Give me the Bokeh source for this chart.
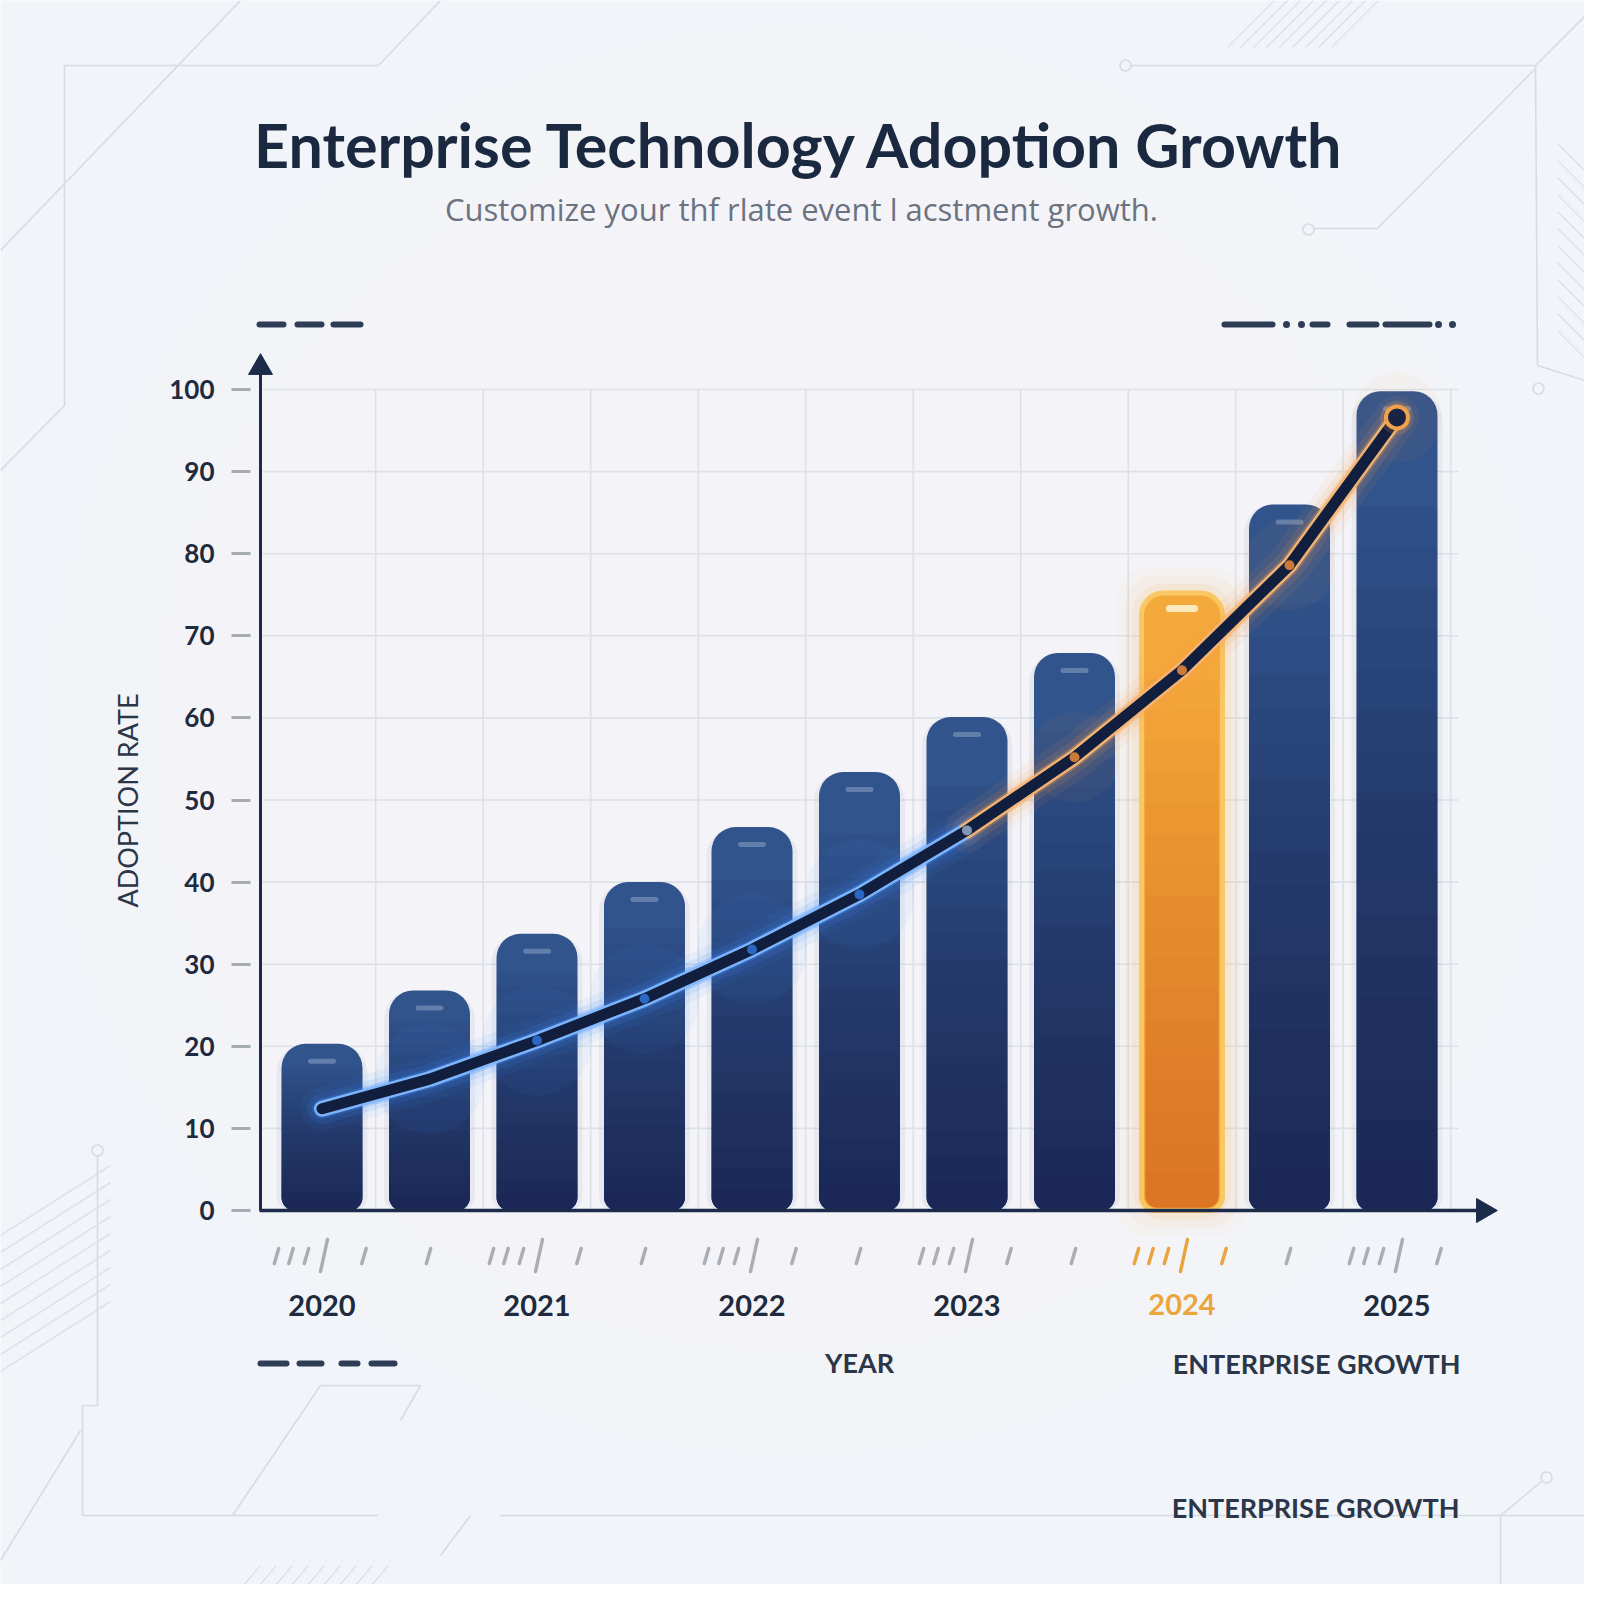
import numpy as np
from bokeh.plotting import figure
from bokeh.models import Range1d, LinearAxis, FixedTicker
from bokeh.core.properties import value
from bokeh.embed import file_html
from bokeh.resources import INLINE

# ---------------- data ----------------
title_text = "Enterprise Technology Adoption Growth"
subtitle_text = "Customize your thf rlate event l acstment growth."
years = ["2020", "2021", "2022", "2023", "2024", "2025"]
adoption = [20.3, 26.8, 33.7, 40.0, 46.7, 53.4, 60.1, 67.9, 75.2, 86.0, 99.8]
trend = [12.4, 16.0, 20.7, 25.8, 31.8, 38.5, 46.3, 55.2, 65.8, 78.6, 96.6]
highlight_index = 8
highlight_year = "2024"
y_ticks = [0, 10, 20, 30, 40, 50, 60, 70, 80, 90, 100]
y_label = "ADOPTION RATE"
x_label = "YEAR"
footer_label = "ENTERPRISE GROWTH"

# ---------------- pixel <-> data mapping ----------------
OFF = 0
X0, XS = 321.5, 107.5      # x pixel of first bar, px per bar step
Y0, YS = 1210.0, 8.21      # y pixel of value 0, px per unit
def X(px): return (px - X0) / XS
def Y(py): return (Y0 - py) / YS
def DX(d): return d / XS
def DY(d): return d / YS

W = H = 1584
FONT = "Lato"
DARK = "#1e2a3d"
BG = "#f1f4f8"

p = figure(width=W, height=H, output_backend="svg", toolbar_location=None,
           x_range=Range1d(X(OFF), X(OFF + W)), y_range=Range1d(Y(OFF + H), Y(OFF)),
           x_axis_type=None, y_axis_type=None, min_border=0)
p.background_fill_color = BG
p.border_fill_color = BG
p.outline_line_color = None

# ---------------- soft background ----------------
for k in range(8):
    s = 1500 - 110 * k
    p.ellipse(x=[X(800)], y=[Y(740)], width=[s], height=[s * 0.95], width_units="screen",
              height_units="screen", fill_color="#ffffff", fill_alpha=0.08, line_color=None)

deco_col = "#d6dce4"
deco_paths = [
    [(440, 0), (378, 65), (64, 65), (64, 405), (0, 470)],
    [(240, 0), (0, 250)],
    [(1125, 65), (1535, 65), (1593, 7)],
    [(1535, 65), (1537, 365), (1600, 385)],
    [(1535, 68), (1377, 228), (1308, 228)],
    [(97, 1155), (97, 1405), (82, 1405), (82, 1515), (378, 1515)],
    [(500, 1515), (1600, 1515)],
    [(440, 1555), (470, 1515)],
    [(232, 1515), (320, 1385), (420, 1385), (400, 1420)],
    [(1500, 1600), (1500, 1515), (1546, 1477)],
    [(0, 1560), (80, 1430)],
]
p.multi_line(xs=[[X(a) for a, b in path] for path in deco_paths],
             ys=[[Y(b) for a, b in path] for path in deco_paths],
             line_color=deco_col, line_width=1.6)
circ = [(1125, 65), (1308, 229), (1538, 388), (97, 1150), (1546, 1477)]
p.scatter(x=[X(a) for a, b in circ], y=[Y(b) for a, b in circ], size=11,
          fill_color=BG, line_color=deco_col, line_width=1.6)
hx0, hy0, hx1, hy1 = [], [], [], []
for k in range(9):
    a = 1227 + 13 * k
    hx0.append(X(a)); hy0.append(Y(47)); hx1.append(X(a + 47)); hy1.append(Y(0))
for k in range(12):
    b = 143 + 17 * k
    hx0.append(X(1557)); hy0.append(Y(b)); hx1.append(X(1600)); hy1.append(Y(b + 43))
for k in range(9):
    b = 1235 + 17 * k
    hx0.append(X(0)); hy0.append(Y(b)); hx1.append(X(110)); hy1.append(Y(b - 70))
for k in range(9):
    a = 230 + 16 * k
    hx0.append(X(a)); hy0.append(Y(1600)); hx1.append(X(a + 30)); hy1.append(Y(1565))
p.segment(x0=hx0, y0=hy0, x1=hx1, y1=hy1, line_color="#dde2e9", line_width=1.5)

# ---------------- grid ----------------
grid_col = "#dce1e7"
gy = [t for t in y_ticks if t > 0]
p.segment(x0=[X(262)] * len(gy), y0=gy, x1=[X(1458)] * len(gy), y1=gy,
          line_color=grid_col, line_width=1.6)
idx = list(range(len(adoption)))
gx = [i + 0.5 for i in idx]
p.segment(x0=gx, y0=[0] * len(gx), x1=gx, y1=[max(y_ticks)] * len(gx),
          line_color=grid_col, line_width=1.6)

# ---------------- bars ----------------
BW = DX(81)
navy_i = [i for i in idx if i != highlight_index]
navy_v = [adoption[i] for i in navy_i]
hv = adoption[highlight_index]

p.vbar(x=navy_i, top=navy_v, bottom=0, width=BW + DX(10), fill_color="#1b3160",
       fill_alpha=0.05, line_color=None, border_radius=(29, 29, 14, 14))
p.vbar(x=navy_i, top=navy_v, bottom=0, width=BW, fill_color="#31548c",
       line_color=None, border_radius=(24, 24, 13, 13))
fracs = [0.86 - 0.05 * k for k in range(17)]
for f in fracs:
    p.vbar(x=navy_i, top=[v * f for v in navy_v], bottom=0, width=BW,
           fill_color="#0a1c44", fill_alpha=0.05, line_color=None,
           border_radius=(0, 0, 13, 13))
p.vbar(x=navy_i, top=[v - DY(15) for v in navy_v], bottom=[v - DY(20) for v in navy_v],
       width=DX(28), fill_color="#6f88b2", fill_alpha=0.8, line_color=None,
       border_radius=3)

# highlighted bar with glow
for extra, alpha in [(50, 0.035), (34, 0.06), (18, 0.10)]:
    p.vbar(x=[highlight_index], top=[hv + DY(extra / 2)], bottom=[-DY(extra / 2)],
           width=BW + DX(extra), fill_color="#f8b040", fill_alpha=alpha,
           line_color=None, border_radius=30)
p.vbar(x=[highlight_index], top=[hv], bottom=0, width=BW, fill_color="#f4aa3a",
       line_color="#f9c764", line_width=5, border_radius=(22, 22, 14, 14))
for f in fracs:
    p.vbar(x=[highlight_index], top=[hv * f], bottom=DY(3), width=BW - DX(8),
           fill_color="#c25410", fill_alpha=0.04, line_color=None,
           border_radius=(0, 0, 11, 11))
p.vbar(x=[highlight_index], top=[hv - DY(12)], bottom=[hv - DY(19)], width=DX(32),
       fill_color="#fdebbf", line_color=None, border_radius=4)

# ---------------- axes lines & arrows ----------------
AX_COL = "#1c2b4a"
p.segment(x0=[X(260)], y0=[0], x1=[X(260)], y1=[Y(372)], line_color=AX_COL, line_width=3)
p.segment(x0=[X(259)], y0=[0], x1=[X(1478)], y1=[0], line_color=AX_COL, line_width=3.5)
p.scatter(x=[X(260)], y=[Y(367)], marker="triangle", size=24, fill_color=AX_COL,
          line_color=AX_COL)
p.scatter(x=[X(1483)], y=[0], marker="triangle", size=24, angle=-np.pi / 2,
          fill_color=AX_COL, line_color=AX_COL)

yax = LinearAxis(fixed_location=X(260), ticker=FixedTicker(ticks=y_ticks),
                 axis_line_color=None, major_tick_in=-10, major_tick_out=29,
                 major_tick_line_color="#a5abb3", major_tick_line_width=3,
                 minor_tick_line_color=None, major_label_standoff=17,
                 major_label_text_font=FONT, major_label_text_font_size="26px",
                 major_label_text_font_style="bold", major_label_text_color=DARK)
p.add_layout(yax, "left")

xticks = [2 * k for k in range(len(years))]
overrides = {t: ("" if t == highlight_index else years[k]) for k, t in enumerate(xticks)}
xax = LinearAxis(fixed_location=0, ticker=FixedTicker(ticks=xticks),
                 major_label_overrides=overrides, axis_line_color=None,
                 major_tick_line_color=None, major_tick_in=0, major_tick_out=0,
                 minor_tick_line_color=None, major_label_standoff=84,
                 major_label_text_font=FONT, major_label_text_font_size="29px",
                 major_label_text_font_style="bold", major_label_text_color=DARK)
p.add_layout(xax, "below")
p.text(x=[highlight_index], y=[Y(1304)], text=[highlight_year], text_align="center",
       text_baseline="middle", text_font=value(FONT), text_font_size="29px",
       text_font_style="bold", text_color="#eaa63c")

# decorative tick strokes under the x axis
sx0, sy0, sx1, sy1, scol = [], [], [], [], []
for i in idx:
    c = "#e9a440" if i == highlight_index else "#a9aeb6"
    if i % 2 == 0:
        strokes = [(-45.5, False), (-31, False), (-15.5, False), (2, True), (42, False)]
    else:
        strokes = [(-1, False)]
    for off, tall in strokes:
        cx = X0 + XS * i + off
        if tall:
            a, b, dx = 1239, 1271, 3.5
        else:
            a, b, dx = 1248, 1263, 2.2
        sx0.append(X(cx + dx)); sy0.append(Y(a)); sx1.append(X(cx - dx)); sy1.append(Y(b))
        scol.append(c)
p.segment(x0=sx0, y0=sy0, x1=sx1, y1=sy1, line_color=scol, line_width=3.5, line_cap="round")

# ---------------- trend line ----------------
split = 6
xs_parts = [idx[:split + 1], idx[split:]]
ys_parts = [trend[:split + 1], trend[split:]]
p.scatter(x=idx[1:6], y=trend[1:6], size=110, fill_color="#4b93ff", fill_alpha=0.06, line_color=None)
p.scatter(x=idx[7:], y=trend[7:], size=90, fill_color="#ffa34a", fill_alpha=0.05, line_color=None)
for w, a in [(44, 0.07), (30, 0.12), (20, 0.25)]:
    p.multi_line(xs=xs_parts, ys=ys_parts, line_color=["#3f8cff", "#f8a04a"],
                 line_width=w, line_alpha=a, line_cap="round", line_join="round")
p.multi_line(xs=xs_parts, ys=ys_parts, line_color=["#7fb8ff", "#f6b574"],
             line_width=16, line_alpha=0.95, line_cap="round", line_join="round")
p.line(x=idx, y=trend, line_color="#121e3d", line_width=11, line_cap="round", line_join="round")

mk_col = ["#2f6fd0"] * 6 + ["#8ea4c4"] + ["#e0843a"] * 4
p.scatter(x=idx[2:10], y=trend[2:10], size=10, fill_color=mk_col[2:10], fill_alpha=0.9,
          line_color=None)
last = len(idx) - 1
p.scatter(x=[last], y=[trend[last]], size=34, fill_color="#ffa54a", fill_alpha=0.15, line_color=None)
p.scatter(x=[last], y=[trend[last]], size=22, fill_color="#1a2442",
          line_color="#f3a24c", line_width=4)

# ---------------- decorative dashes ----------------
DASH = "#2e3c56"
dash_segs = [(259, 283, 324), (297, 321, 324), (333, 360, 324),
             (1224, 1272, 324), (1312, 1327, 324), (1349, 1376, 324), (1385, 1429, 324),
             (260, 286, 1363), (299, 321, 1363), (341, 357, 1363), (371, 394, 1363)]
p.segment(x0=[X(a) for a, b, c in dash_segs], y0=[Y(c) for a, b, c in dash_segs],
          x1=[X(b) for a, b, c in dash_segs], y1=[Y(c) for a, b, c in dash_segs],
          line_color=DASH, line_width=6, line_cap="round")
dots = [(1286, 324), (1301, 324), (1438, 324), (1452, 324)]
p.scatter(x=[X(a) for a, b in dots], y=[Y(b) for a, b in dots], size=7,
          fill_color=DASH, line_color=None)

# ---------------- texts ----------------
p.text(x=[X(800)], y=[Y(144)], text=[title_text], text_align="center",
       text_baseline="alphabetic", text_font=value(FONT), text_font_size="61px",
       text_font_style="bold", text_color="#1b2940")
p.text(x=[X(801)], y=[Y(208)], text=[subtitle_text], text_align="center",
       text_baseline="alphabetic", text_font=value("Open Sans"), text_font_size="31px",
       text_color="#6b7280")
p.text(x=[X(127)], y=[Y(800)], text=[y_label], angle=np.pi / 2, text_align="center",
       text_baseline="middle", text_font=value(FONT), text_font_size="27px",
       text_color="#2b3649")
p.text(x=[X(859)], y=[Y(1362)], text=[x_label], text_align="center",
       text_baseline="middle", text_font=value(FONT), text_font_size="27px",
       text_font_style="bold", text_color="#2b3649")
p.text(x=[X(1460), X(1459)], y=[Y(1363), Y(1507)], text=[footer_label, footer_label],
       text_align="right", text_baseline="middle", text_font=value(FONT),
       text_font_size="27px", text_font_style="bold", text_color="#2b3649")

open("out.html", "w").write(file_html(p, INLINE))
